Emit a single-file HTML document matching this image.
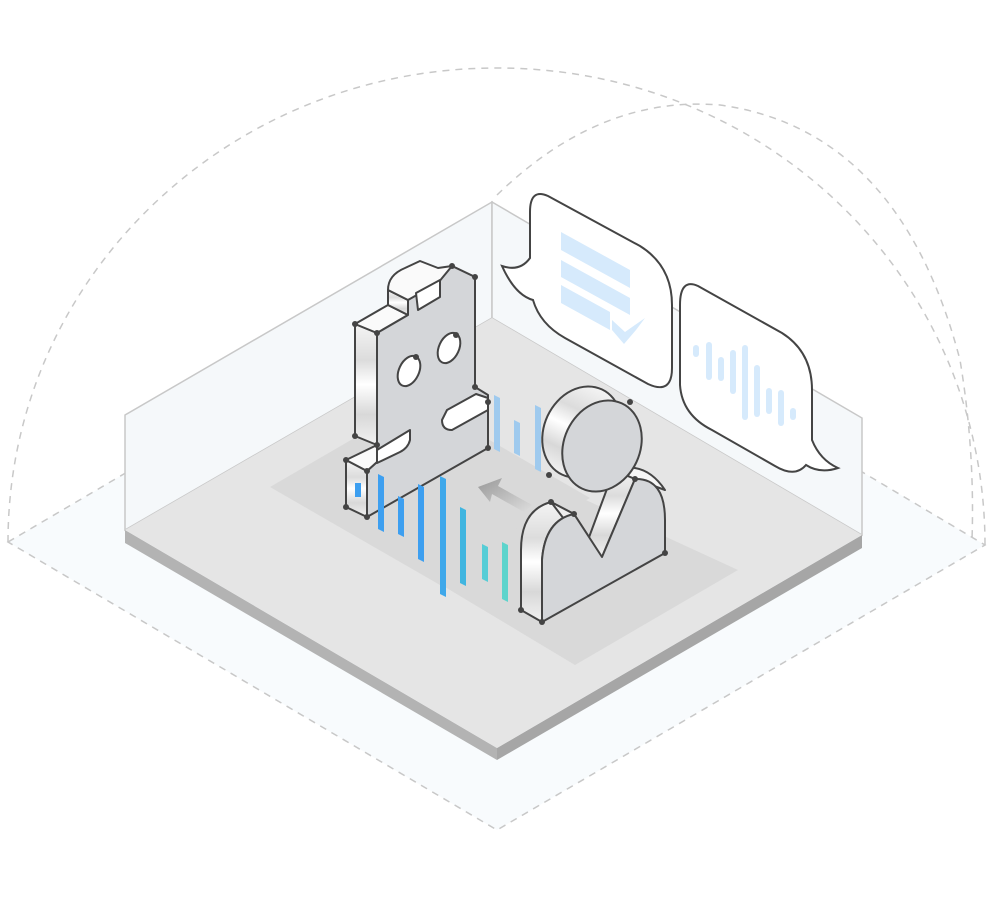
<!DOCTYPE html>
<html><head><meta charset="utf-8"><style>html,body{margin:0;padding:0;background:#fff}svg{display:block}</style></head>
<body>
<svg width="1000" height="900" viewBox="0 0 1000 900" xmlns="http://www.w3.org/2000/svg">
<defs>
<linearGradient id="side" x1="0" y1="0" x2="0" y2="1">
<stop offset="0" stop-color="#f4f4f4"/><stop offset="0.3" stop-color="#dcdcdc"/><stop offset="0.5" stop-color="#ffffff"/><stop offset="0.75" stop-color="#d8d8d8"/><stop offset="1" stop-color="#f2f2f2"/></linearGradient>
<linearGradient id="arrowg" x1="0" y1="0" x2="1" y2="1"><stop offset="0" stop-color="#999"/><stop offset="1" stop-color="#ddd"/></linearGradient>
</defs>
<polygon points="8,542 497,255 985,545 497,830" fill="#f8fbfd" stroke="#c8c8c8" stroke-width="1.5" stroke-dasharray="7,6"/>
<path d="M8,542 C8,279 227,68 497,68 C767,68 985,279 985,545" fill="none" stroke="#c8c8c8" stroke-width="1.5" stroke-dasharray="7,6"/>
<path d="M497,195 Q600,95 720,105 Q900,130 960,360 Q975,450 972,540" fill="none" stroke="#c8c8c8" stroke-width="1.5" stroke-dasharray="7,6"/>
<polygon points="125,415 492,202 492,318 125,530" fill="#f5f8fa" stroke="#c8c8c8" stroke-width="1.5"/>
<polygon points="492,202 862,418 862,535 492,318" fill="#f5f8fa" stroke="#c8c8c8" stroke-width="1.5"/>
<polygon points="125,530 125,543 497,760 497,748" fill="#b3b3b3"/>
<polygon points="497,748 497,760 862,548 862,535" fill="#a6a6a6"/>
<polygon points="125,530 492,318 862,535 497,748" fill="#e5e5e5"/>
<polygon points="270,487 420,400 590,498 440,585" fill="#d9d9d9"/>
<polygon points="430,578 575,495 738,570 575,665" fill="#d9d9d9"/>
<path d="M548,196 L640,246 Q672,266 672,305 L672,368 Q672,395 648,384 L565,338 Q540,324 533,300 Q515,295 502,266 Q520,272 530,258 L530,212 Q530,188 548,196 Z" fill="#fff" stroke="#444" stroke-width="2"/>
<polygon points="561,232 630,270 630,288 561,250" fill="#d6eafc"/>
<polygon points="561,260 630,298 630,315 561,277" fill="#d6eafc"/>
<polygon points="561,285 610,312 610,330 561,303" fill="#d6eafc"/>
<polygon points="612,320 625,332 645,318 636,330 624,344 612,330" fill="#d6eafc"/>
<path d="M698,286 L782,333 Q812,352 812,390 L812,440 Q820,460 838,468 Q820,474 806,465 Q795,478 775,466 L712,430 Q682,415 680,385 L680,305 Q680,278 698,286 Z" fill="#fff" stroke="#444" stroke-width="2"/>
<g fill="#d6eafc">
<rect x="693" y="345" width="6" height="12" rx="3"/>
<rect x="706" y="342" width="6" height="38" rx="3"/>
<rect x="718" y="357" width="6" height="24" rx="3"/>
<rect x="730" y="350" width="6" height="44" rx="3"/>
<rect x="742" y="345" width="6" height="75" rx="3"/>
<rect x="754" y="365" width="6" height="52" rx="3"/>
<rect x="766" y="388" width="6" height="26" rx="3"/>
<rect x="778" y="390" width="6" height="36" rx="3"/>
<rect x="790" y="408" width="6" height="12" rx="3"/>
</g>
<g fill="#9fcaee">
<polygon points="494,395 500,398 500,452 494,449"/>
<polygon points="514,420 520,423 520,456 514,453"/>
<polygon points="535,405 541,408 541,472 535,469"/>
</g>
<polygon points="478,487 502,478 498,486 532,505 524,512 492,494 490,502" fill="url(#arrowg)"/>
<g stroke="#444" stroke-width="2" stroke-linejoin="round">
<polygon points="355,324 377,333 377,445 355,436" fill="url(#side)"/>
<polygon points="355,324 388,305 408,315 377,333" fill="#fafafa"/>
<polygon points="388,290 408,300 408,315 388,305" fill="url(#side)"/>
<path d="M388,290 Q388,275 405,268 L420,261 L438,268 L452,266 L475,277 L408,300 Z" fill="#fafafa"/>
<polygon points="346,460 367,471 367,517 346,507" fill="url(#side)"/>
<polygon points="377,333 408,315 408,300 438,283 452,266 475,277 475,387 488,395 488,448 367,517 367,471 377,462" fill="#d4d6d9"/>
<path d="M346,460 L377,445 L377,462 L367,471 Z" fill="#fafafa"/>
<polygon points="416,293 440,280 440,297 418,310" fill="#fff"/>
<ellipse cx="409" cy="371" rx="10" ry="16" transform="rotate(25 409 371)" fill="#fff"/>
<ellipse cx="449" cy="348" rx="10" ry="16" transform="rotate(25 449 348)" fill="#fff"/>
<path d="M447,410 L476,394 L488,398 L488,410 L452,430 Q442,430 442,420 Z" fill="#fff"/>
<path d="M377,450 L410,430 L410,440 Q408,448 400,452 L377,463 Z" fill="#fff"/>
</g>
<rect x="355" y="483" width="6" height="14" fill="#3d9ff0"/>
<g fill="#444"><circle cx="355" cy="324" r="3"/><circle cx="377" cy="333" r="3"/><circle cx="355" cy="436" r="3"/><circle cx="377" cy="445" r="3"/><circle cx="475" cy="277" r="3"/><circle cx="452" cy="266" r="3"/><circle cx="475" cy="387" r="3"/><circle cx="488" cy="402" r="3"/><circle cx="488" cy="448" r="3"/><circle cx="346" cy="460" r="3"/><circle cx="367" cy="471" r="3"/><circle cx="367" cy="517" r="3"/><circle cx="346" cy="507" r="3"/><circle cx="416" cy="357" r="3"/><circle cx="456" cy="335" r="3"/></g>
<g>
<polygon points="378,474 384,477 384,532 378,529" fill="#3d9ff0"/>
<polygon points="398,496 404,499 404,537 398,534" fill="#3d9ff0"/>
<polygon points="418,484 424,487 424,562 418,559" fill="#3d9ff0"/>
<polygon points="440,476 446,479 446,597 440,594" fill="#3fa8ea"/>
<polygon points="460,507 466,510 466,586 460,583" fill="#40b5e0"/>
<polygon points="482,544 488,547 488,582 482,579" fill="#56cdd6"/>
<polygon points="502,542 508,545 508,602 502,599" fill="#5dd4cc"/>
<polygon points="522,576 528,579 528,592 522,589" fill="#66dccc"/>
</g>
<g stroke="#444" stroke-width="2" stroke-linejoin="round">
<path d="M521,610 L542,622 L542,560 Q545,520 574,514 L551,502 Q521,510 521,550 Z" fill="url(#side)"/>
<path d="M574,514 L551,502 L580,540 L602,557 Z" fill="#eee"/>
<path d="M602,557 L635,479 L614,470 L588,540 Z" fill="url(#side)"/>
<path d="M614,470 Q645,460 665,490 L635,479 Z" fill="#f5f5f5"/>
<path d="M542,622 L542,560 Q545,520 574,514 L602,557 L635,479 Q665,478 665,520 L665,553 Z" fill="#d4d6d9"/>
<ellipse cx="582" cy="432" rx="38" ry="47" transform="rotate(25 582 432)" fill="url(#side)"/>
<ellipse cx="602" cy="446" rx="38" ry="47" transform="rotate(25 602 446)" fill="#d4d6d9"/>
</g>
<g fill="#444"><circle cx="521" cy="610" r="3"/><circle cx="542" cy="622" r="3"/><circle cx="551" cy="502" r="3"/><circle cx="574" cy="514" r="3"/><circle cx="635" cy="479" r="3"/><circle cx="665" cy="553" r="3"/><circle cx="630" cy="402" r="3"/><circle cx="549" cy="475" r="3"/></g>
</svg>
</body></html>
